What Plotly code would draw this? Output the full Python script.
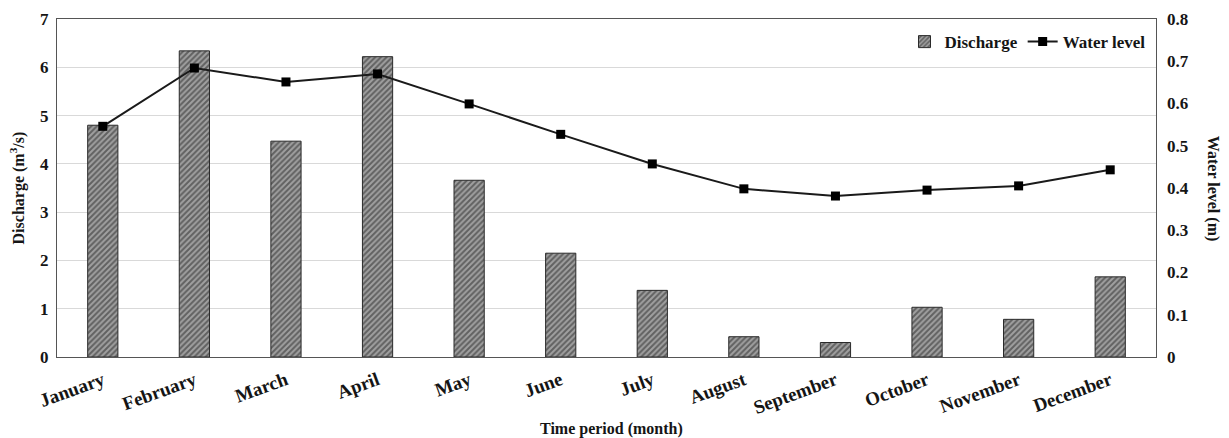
import plotly.graph_objects as go

months = ["January", "February", "March", "April", "May", "June", "July",
          "August", "September", "October", "November", "December"]
discharge = [4.80, 6.34, 4.47, 6.22, 3.66, 2.15, 1.38, 0.42, 0.30, 1.03, 0.78, 1.66]
water_level = [0.546, 0.684, 0.651, 0.670, 0.599, 0.527, 0.457, 0.398, 0.381, 0.395, 0.405, 0.443]

FONT = "Liberation Serif"
INK = "#151515"

fig = go.Figure()
fig.add_trace(go.Bar(
    x=months, y=discharge, name="Discharge",
    marker=dict(color="#8c8c8c", line=dict(color="#2a2a2a", width=1),
                pattern=dict(shape="/", fgcolor="#222222", bgcolor="#a0a0a0", size=4, solidity=0.5)),
))
fig.add_trace(go.Scatter(
    x=months, y=water_level, name="Water level", yaxis="y2", mode="lines+markers",
    line=dict(color="#1a1a1a", width=2), marker=dict(symbol="square", size=9, color="black"),
))

fig.update_layout(
    width=1229, height=438,
    margin=dict(l=57, r=73, t=19, b=81),
    paper_bgcolor="white", plot_bgcolor="white",
    font=dict(family=FONT, size=16, color=INK),
    bargap=0.67,
    showlegend=True,
    legend=dict(orientation="h", x=0.995, y=0.985, xanchor="right", yanchor="top",
                font=dict(family=FONT, size=17, color=INK, weight="bold"),
                bgcolor="rgba(0,0,0,0)", itemwidth=30, tracegroupgap=0),
    xaxis=dict(
        range=[-0.5, 11.5],
        tickangle=-20, tickfont=dict(family=FONT, size=19, weight="bold", color=INK),
        showline=True, linecolor="#555", linewidth=1, mirror=True,
        automargin=False, ticklabelstandoff=4,
    ),
    yaxis=dict(
        range=[0, 7], dtick=1, showgrid=True, gridcolor="#d9d9d9",
        showline=True, linecolor="#555", linewidth=1, mirror=True,
        tickfont=dict(family=FONT, size=17, weight="bold", color=INK), ticks="",
        zeroline=False, automargin=False, ticklabelstandoff=4,
    ),
    yaxis2=dict(
        range=[0, 0.8], dtick=0.1, overlaying="y", side="right", showgrid=False,
        tickfont=dict(family=FONT, size=17, weight="bold", color=INK), ticks="",
        tickformat="~g", zeroline=False, automargin=False, ticklabelstandoff=10,
    ),
    annotations=[
        dict(text="<b>Water level (m)</b>", textangle=90, x=1.052, y=0.5, xref="paper", yref="paper",
             showarrow=False, font=dict(family=FONT, size=16, color=INK), xanchor="center", yanchor="middle"),
        dict(text="<b>Discharge (m<sup>3</sup>/s)</b>", textangle=-90, x=-0.036, y=0.5, xref="paper", yref="paper",
             showarrow=False, font=dict(family=FONT, size=16, color=INK), xanchor="center", yanchor="middle"),
        dict(text="<b>Time period (month)</b>", x=0.505, y=-0.212, xref="paper", yref="paper",
             showarrow=False, font=dict(family=FONT, size=16, color=INK), xanchor="center", yanchor="middle"),
    ],
)

fig.write_html("out.html")
